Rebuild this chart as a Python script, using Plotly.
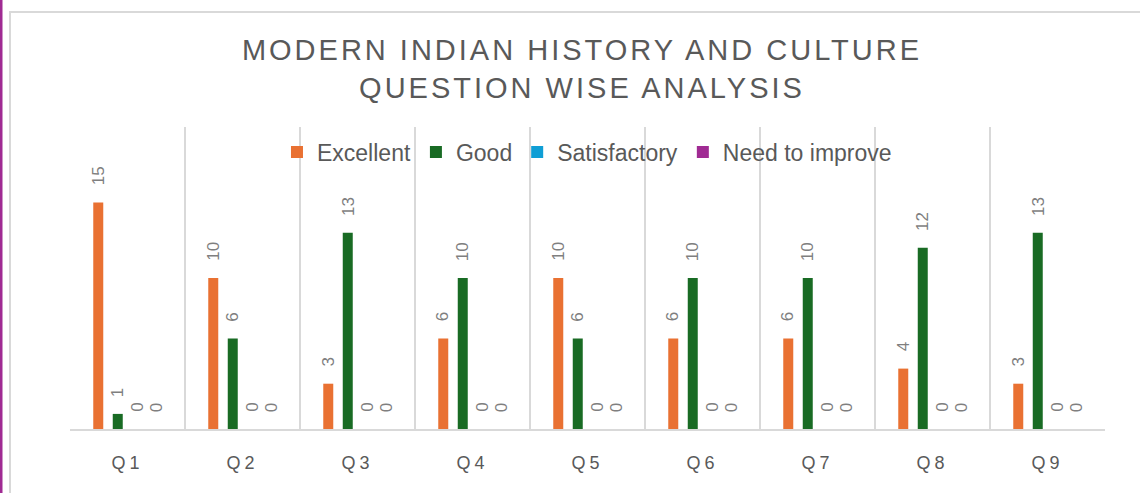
import plotly.graph_objects as go

questions = ["Q1", "Q2", "Q3", "Q4", "Q5", "Q6", "Q7", "Q8", "Q9"]
excellent = [15, 10, 3, 6, 10, 6, 6, 4, 3]
good = [1, 6, 13, 10, 6, 10, 10, 12, 13]
satisfactory = [0, 0, 0, 0, 0, 0, 0, 0, 0]
need_to_improve = [0, 0, 0, 0, 0, 0, 0, 0, 0]

series = [
    ("Excellent", excellent, "#E97132"),
    ("Good", good, "#196B24"),
    ("Satisfactory", satisfactory, "#0F9ED5"),
    ("Need to improve", need_to_improve, "#A02B93"),
]

W, H = 1140, 493
ML, MR, MT, MB = 70, 35, 127, 64
PW, PH = W - ML - MR, H - MT - MB
BARGAP = 0.322
BARGROUPGAP = 0.487
FONT = "Liberation Sans, Arial, sans-serif"

fig = go.Figure()
for name, vals, color in series:
    fig.add_trace(go.Bar(name=name, x=questions, y=vals, marker_color=color,
                         marker_line_width=0))

slot = (1 - BARGAP) / len(series)
annotations = []
for k, (name, vals, color) in enumerate(series):
    off = (k - (len(series) - 1) / 2) * slot
    for i, v in enumerate(vals):
        annotations.append(dict(
            x=i + off, y=v, xref="x", yref="y", text=str(v), showarrow=False,
            textangle=-90, xanchor="center", yanchor="bottom", yshift=15,
            font=dict(family=FONT, size=17, color="#7f7f7f")))


def px_x(p):
    return (p - ML) / PW


def px_y(p):
    return (H - MB - p) / PH


shapes = [
    dict(type="rect", xref="paper", yref="paper", x0=px_x(10), x1=px_x(1160),
         y0=px_y(12), y1=px_y(520), line=dict(color="#d9d9d9", width=2),
         fillcolor="rgba(0,0,0,0)", layer="below"),
    dict(type="rect", xref="paper", yref="paper", x0=px_x(-2), x1=px_x(2.5),
         y0=px_y(-5), y1=px_y(500), line=dict(width=0), fillcolor="#A02B93"),
]

fig.update_layout(
    width=W, height=H,
    margin=dict(l=ML, r=MR, t=MT, b=MB, pad=0),
    paper_bgcolor="white", plot_bgcolor="white",
    barmode="group", bargap=BARGAP, bargroupgap=BARGROUPGAP,
    title=dict(text="MODERN INDIAN HISTORY AND CULTURE<br>QUESTION WISE ANALYSIS",
               x=582 / W, xanchor="center", y=1 - 60 / H, yanchor="top",
               font=dict(family=FONT, size=29, color="#595959")),
    legend=dict(orientation="h", x=0.4995, xanchor="center",
                y=(H - MB - 152) / PH, yanchor="middle",
                bgcolor="rgba(0,0,0,0)",
                font=dict(family=FONT, size=23, color="#595959")),
    xaxis=dict(tickson="boundaries", showgrid=True, gridcolor="#d9d9d9", gridwidth=2,
               showline=True, linecolor="#d9d9d9", linewidth=2, ticks="",
               ticklabelstandoff=16,
               tickfont=dict(family=FONT, size=18, color="#595959")),
    yaxis=dict(range=[0, 20], visible=False, showgrid=False, zeroline=False),
    annotations=annotations,
    shapes=shapes,
    showlegend=True,
)

js = """
document.documentElement.style.margin='0';
document.body.style.margin='0';
var gd = document.getElementById('{plot_id}');
function ls(){
  gd.querySelectorAll('.gtitle').forEach(function(e){e.style.letterSpacing='3px';});
  gd.querySelectorAll('.xtick text').forEach(function(e){e.style.letterSpacing='4px';});
}
ls();
if (gd.on) { gd.on('plotly_afterplot', ls); }
"""

fig.write_html("out.html", post_script=js, config={"displayModeBar": False})
